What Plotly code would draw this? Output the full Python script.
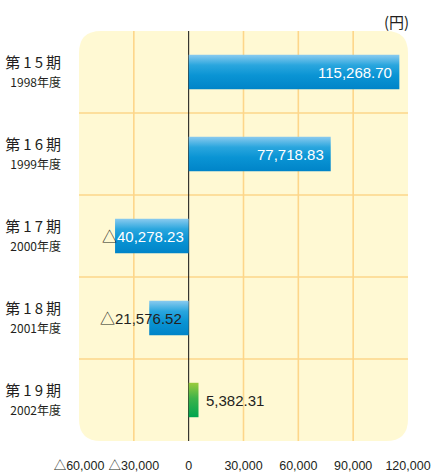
import plotly.graph_objects as go

periods = ["第\u20091\u20095\u2009期", "第\u20091\u20096\u2009期", "第\u20091\u20097\u2009期",
           "第\u20091\u20098\u2009期", "第\u20091\u20099\u2009期"]
years = ["1998年度", "1999年度", "2000年度", "2001年度", "2002年度"]
values = [115268.70, 77718.83, -40278.23, -21576.52, 5382.31]
value_labels = ["115,268.70", "77,718.83", "△40,278.23", "△21,576.52", "5,382.31"]
x_ticks = [-60000, -30000, 0, 30000, 60000, 90000, 120000]
x_ticktext = ["△60,000", "△30,000", "0", "30,000", "60,000", "90,000", "120,000"]

BLUE_SCALE = [[0, "#0084c8"], [0.4, "#0a94d4"], [0.7, "#2aa6de"], [1, "#8acbef"]]
GREEN_SCALE = [[0, "#00a54f"], [0.55, "#3db34a"], [1, "#9bcb3c"]]
BG = "#fff9d3"
GRID = "#fdd68a"
FONT = "Liberation Sans, Arial, Noto Sans CJK JP, sans-serif"

n = len(values)
pos = [n - 1 - i for i in range(n)]  # first period at top
XMIN, XMAX = -60000, 120000
YMIN, YMAX = -0.5, n - 0.5
BAR_W = 0.42

fig = go.Figure()

for i, v in enumerate(values):
    y0, y1 = pos[i] - BAR_W / 2, pos[i] + BAR_W / 2
    scale = GREEN_SCALE if i == 4 else BLUE_SCALE
    fig.add_trace(go.Scatter(
        x=[0, v, v, 0, 0], y=[y0, y0, y1, y1, y0],
        mode="lines", line=dict(width=0), fill="toself",
        fillgradient=dict(type="vertical", colorscale=scale),
        hoverinfo="skip", showlegend=False,
    ))

# background rounded rectangle
px_w, px_h = 329, 410
r = 22
rx = (XMAX - XMIN) / px_w * r
ry = (YMAX - YMIN) / px_h * r
x0, x1, y0, y1 = XMIN, XMAX, YMIN, YMAX
path = (f"M {x0+rx},{y0} L {x1-rx},{y0} Q {x1},{y0} {x1},{y0+ry} "
        f"L {x1},{y1-ry} Q {x1},{y1} {x1-rx},{y1} L {x0+rx},{y1} "
        f"Q {x0},{y1} {x0},{y1-ry} L {x0},{y0+ry} Q {x0},{y0} {x0+rx},{y0} Z")
shapes = [dict(type="path", path=path, xref="x", yref="y", fillcolor=BG,
               line=dict(width=0), layer="below")]
for xv in x_ticks[1:-1]:
    if xv == 0:
        continue
    shapes.append(dict(type="line", xref="x", yref="y", x0=xv, x1=xv, y0=YMIN, y1=YMAX,
                       line=dict(color=GRID, width=1.6), layer="below"))
for k in range(n - 1):
    yv = k + 0.5
    shapes.append(dict(type="line", xref="x", yref="y", x0=XMIN, x1=XMAX, y0=yv, y1=yv,
                       line=dict(color=GRID, width=1.6), layer="below"))
shapes.append(dict(type="line", xref="x", yref="y", x0=0, x1=0, y0=YMIN, y1=YMAX,
                   line=dict(color="#111111", width=1), layer="below"))

annotations = []
for i, (v, lab) in enumerate(zip(values, value_labels)):
    y = pos[i]
    if i < 2:
        annotations.append(dict(x=v, y=y, xref="x", yref="y", text=lab, showarrow=False,
                                xanchor="right", xshift=-5,
                                font=dict(color="white", size=15, family=FONT)))
    elif i == 2:
        txt = "△<span style='color:white'>" + lab[1:] + "</span>"
        annotations.append(dict(x=0, y=y, xref="x", yref="y", text=txt, showarrow=False,
                                xanchor="right", xshift=-3,
                                font=dict(color="#231f20", size=15, family=FONT)))
    elif i == 3:
        annotations.append(dict(x=0, y=y, xref="x", yref="y", text=lab, showarrow=False,
                                xanchor="right", xshift=-5,
                                font=dict(color="#231f20", size=15, family=FONT)))
    else:
        annotations.append(dict(x=v, y=y, xref="x", yref="y", text=lab, showarrow=False,
                                xanchor="left", xshift=5,
                                font=dict(color="#231f20", size=15, family=FONT)))

annotations.append(dict(x=1.008, y=1.022, xref="paper", yref="paper", text="(円)",
                        showarrow=False, xanchor="right", yanchor="middle",
                        font=dict(color="#231f20", size=15, family="Noto Sans CJK JP")))

ticktext = [f"{p}<br><span style='font-size:12px'>{y}</span>" for p, y in zip(periods, years)]

fig.update_layout(
    width=434, height=474,
    margin=dict(l=79, r=26, t=31, b=33, autoexpand=False),
    paper_bgcolor="white", plot_bgcolor="rgba(0,0,0,0)",
    shapes=shapes, annotations=annotations,
    showlegend=False,
    xaxis=dict(range=[XMIN, XMAX], tickvals=x_ticks, ticktext=x_ticktext,
               showgrid=False, zeroline=False, showline=False, automargin=False,
               ticks="outside", ticklen=13, tickcolor="rgba(0,0,0,0)",
               tickfont=dict(size=12.5, color="#231f20", family=FONT), fixedrange=True),
    yaxis=dict(range=[YMIN, YMAX], tickvals=pos, ticktext=ticktext,
               showgrid=False, zeroline=False, showline=False, automargin=False,
               ticks="outside", ticklen=14, tickcolor="rgba(0,0,0,0)",
               tickfont=dict(size=15, color="#231f20", family="Noto Sans CJK JP"),
               fixedrange=True),
)

fig.write_html("out.html")
